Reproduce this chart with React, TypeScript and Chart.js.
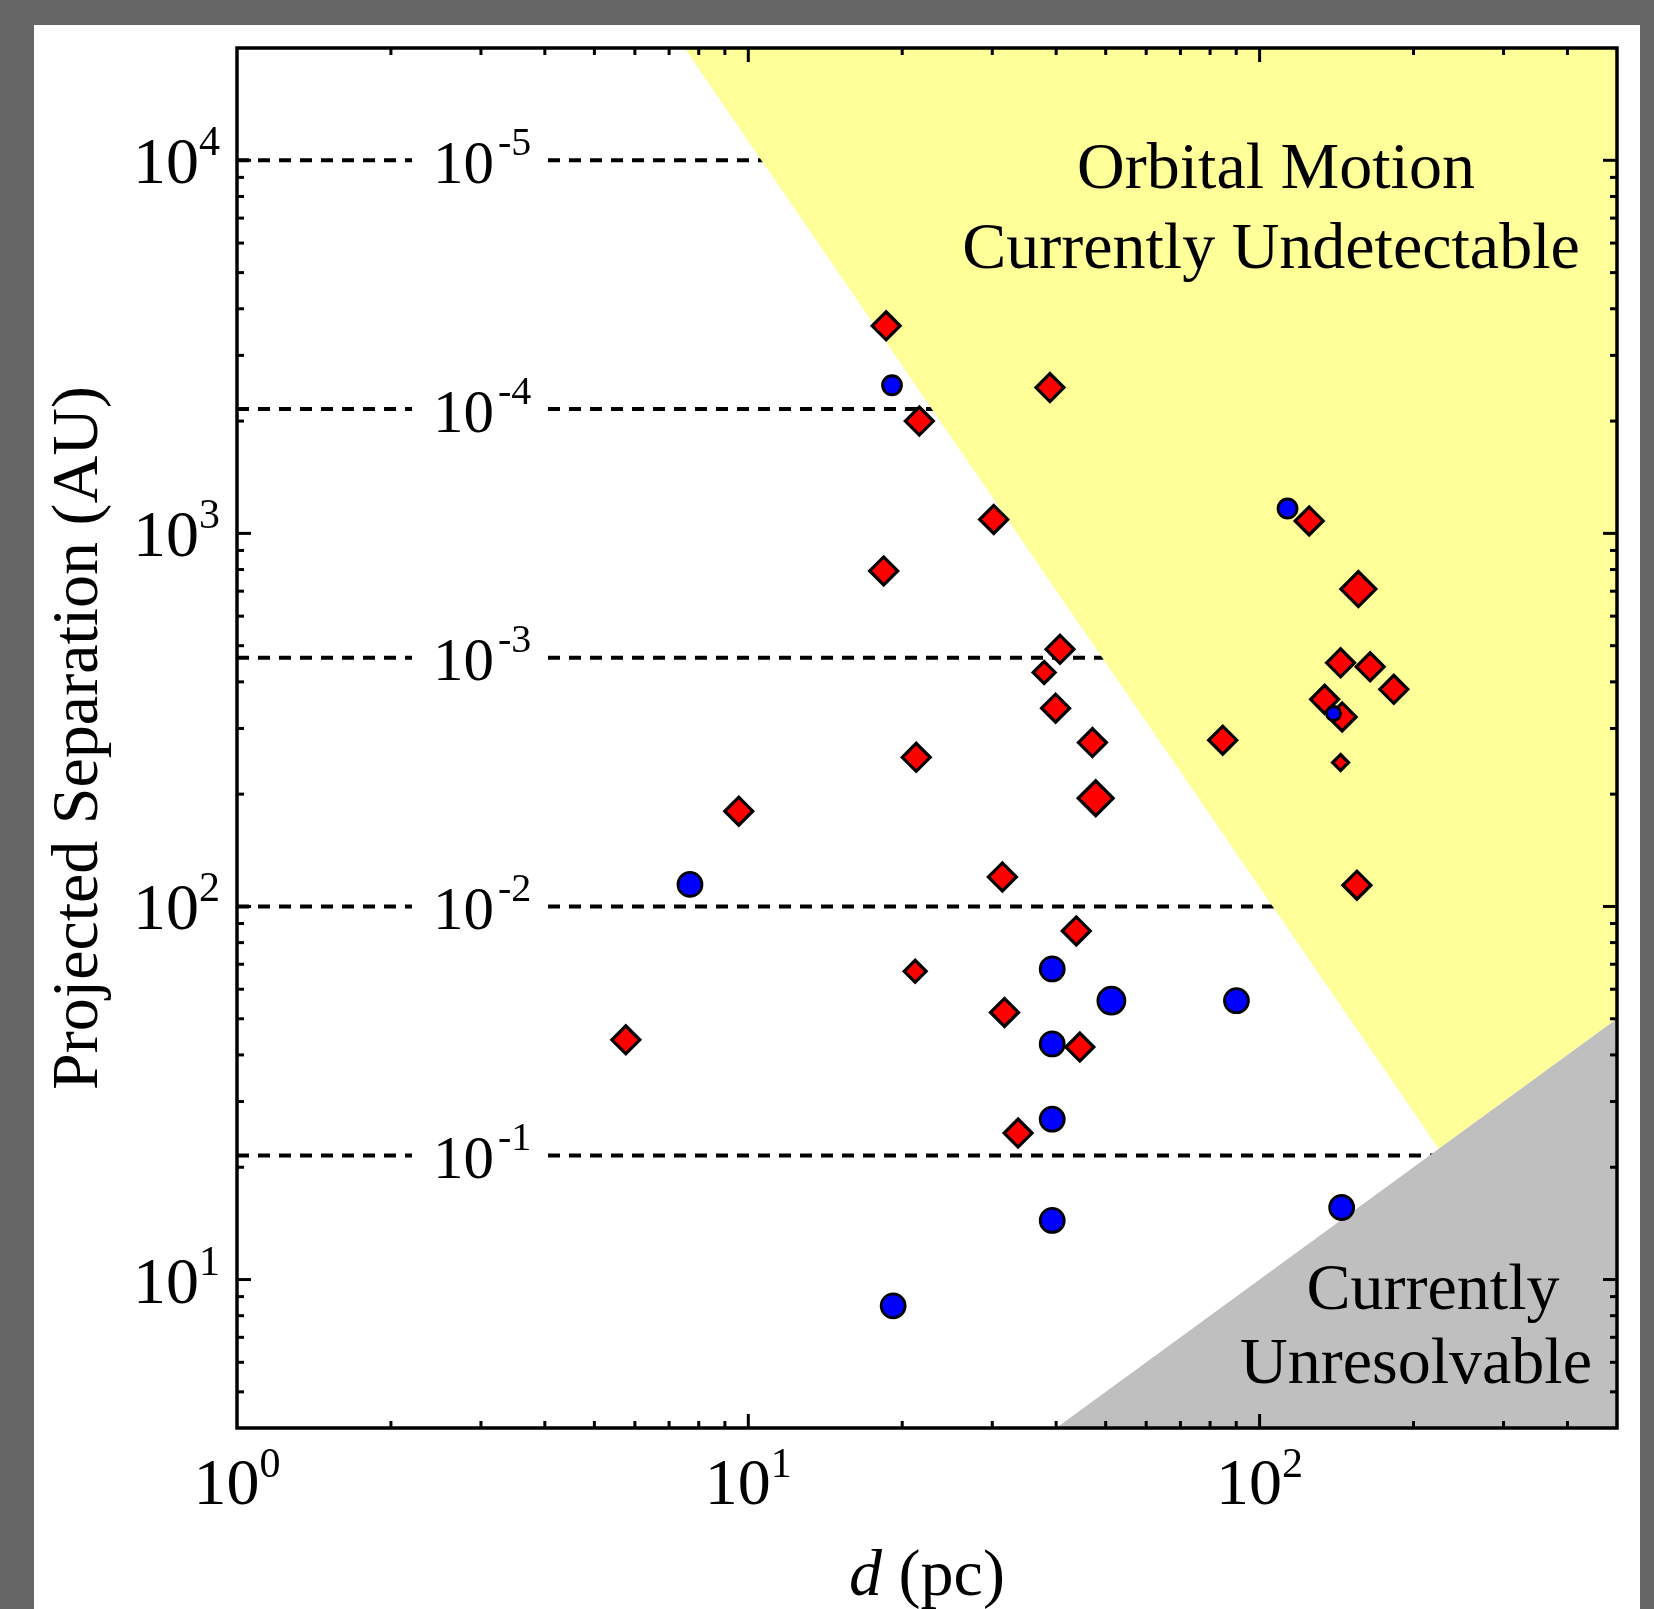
import React, { useEffect, useRef } from 'react';
import { Chart, registerables } from 'chart.js';

Chart.register(...registerables);

const W = 1654;
const H = 1609;
const SERIF = '"Liberation Serif", "Times New Roman", Times, serif';

// axis ranges (d in pc, projected separation in AU)
const xRange = [1, 500];
const yRange = [4, 20000];

// red diamonds
const redD = [18.6, 21.6, 38.9, 30.2, 18.4, 40.7, 37.9, 39.9, 47.1, 21.3, 47.8, 9.58, 31.4, 43.8, 21.2, 31.7, 44.5, 33.7, 5.76, 125, 156, 144, 164.5, 183, 134, 145, 84.7, 144, 155];
const redS = [3600, 2000, 2460, 1090, 793, 489, 424, 340, 275, 251, 195, 180, 120, 86, 67, 52, 42, 24.7, 43.9, 1080, 709, 450, 439, 382, 359, 322, 279, 243, 114];
const redSize = ['M', 'M', 'M', 'M', 'M', 'M', 'S', 'M', 'M', 'M', 'L', 'M', 'M', 'M', 'S', 'M', 'M', 'M', 'M', 'M', 'L', 'M', 'M', 'M', 'M', 'M', 'M', 'XS', 'M'];

// blue circles
const blueD = [19.1, 113.4, 139.5, 7.69, 39.3, 51.3, 90.1, 39.3, 39.3, 39.3, 19.2, 144.7];
const blueS = [2495, 1166, 329, 114.6, 68, 55.9, 55.9, 42.8, 26.9, 14.4, 8.5, 15.6];
const blueSize = ['S', 'S', 'XS', 'M', 'M', 'L', 'M', 'M', 'M', 'M', 'M', 'M'];

// shaded regions (vertices)
const yellowD = [7.5, 224, 500];
const yellowS = [20000, 22.4, 50];
const grayD = [40, 500];
const grayS = [4, 50];

// dashed guide lines
const guideS = [10000, 2154, 464, 100, 21.5];
const guideExp = ['-5', '-4', '-3', '-2', '-1'];

// tick labels
const xTickValues = [1, 10, 100];
const xTickExp = ['0', '1', '2'];
const yTickValues = [10, 100, 1000, 10000];
const yTickExp = ['1', '2', '3', '4'];

const regionTop = ['Orbital Motion', 'Currently Undetectable'];
const regionBottom = ['Currently', 'Unresolvable'];

const redRadius: Record<string, number> = { XS: 8, S: 11, M: 14, L: 17.5 };
const blueRadius: Record<string, number> = { XS: 7, S: 9.5, M: 12, L: 13.5 };

function logTicks(min: number, max: number) {
  const out: { v: number; major: boolean }[] = [];
  for (let e = Math.floor(Math.log10(min)); e <= Math.ceil(Math.log10(max)); e++) {
    for (let m = 1; m <= 9; m++) {
      const v = m * Math.pow(10, e);
      if (v > min * 1.0001 && v < max * 0.9999) out.push({ v, major: m === 1 });
    }
  }
  return out;
}

const overlay = {
  id: 'overlay',
  beforeDatasetsDraw(chart: any) {
    const { ctx, chartArea: a } = chart;
    const y = chart.scales.y;
    ctx.save();
    ctx.strokeStyle = '#000';
    ctx.lineWidth = 4;
    ctx.setLineDash([12, 9]);
    guideS.forEach((s) => {
      const py = y.getPixelForValue(s);
      ctx.beginPath();
      ctx.moveTo(a.left, py);
      ctx.lineTo(a.left + 175, py);
      ctx.stroke();
      ctx.beginPath();
      ctx.moveTo(a.left + 311, py);
      ctx.lineTo(a.right, py);
      ctx.stroke();
    });
    ctx.restore();
  },
  afterDatasetsDraw(chart: any) {
    const { ctx, chartArea: a } = chart;
    const x = chart.scales.x;
    const y = chart.scales.y;
    const mainFont = `66px ${SERIF}`;
    const supFont = `42px ${SERIF}`;
    const guideFont = `61px ${SERIF}`;
    const guideSupFont = `40px ${SERIF}`;
    ctx.save();
    ctx.fillStyle = '#000';
    ctx.strokeStyle = '#000';
    ctx.setLineDash([]);
    ctx.textBaseline = 'alphabetic';

    // guide labels
    guideS.forEach((s, i) => {
      const py = y.getPixelForValue(s);
      const x0 = a.left + 196;
      ctx.font = guideFont;
      ctx.textAlign = 'left';
      ctx.fillText('10', x0, py + 22.5);
      const w = ctx.measureText('10').width;
      ctx.font = guideSupFont;
      ctx.fillText(guideExp[i], x0 + w + 4, py - 5.5);
    });

    // ticks (inward, mirrored)
    ctx.lineWidth = 3;
    const seg = (x1: number, y1: number, x2: number, y2: number) => {
      ctx.beginPath();
      ctx.moveTo(x1, y1);
      ctx.lineTo(x2, y2);
      ctx.stroke();
    };
    logTicks(xRange[0], xRange[1]).forEach((t) => {
      const px = x.getPixelForValue(t.v);
      const len = t.major ? 14 : 7;
      seg(px, a.bottom, px, a.bottom - len);
      seg(px, a.top, px, a.top + len);
    });
    logTicks(yRange[0], yRange[1]).forEach((t) => {
      const py = y.getPixelForValue(t.v);
      const len = t.major ? 14 : 7;
      seg(a.left, py, a.left + len, py);
      seg(a.right, py, a.right - len, py);
    });

    // frame
    ctx.lineWidth = 3.5;
    ctx.strokeRect(a.left, a.top, a.right - a.left, a.bottom - a.top);

    // x tick labels
    xTickValues.forEach((v, i) => {
      const px = x.getPixelForValue(v);
      ctx.font = mainFont;
      const w1 = ctx.measureText('10').width;
      ctx.font = supFont;
      const w2 = ctx.measureText(xTickExp[i]).width;
      const start = px - (w1 + w2) / 2;
      ctx.textAlign = 'left';
      ctx.font = mainFont;
      ctx.fillText('10', start, a.bottom + 76);
      ctx.font = supFont;
      ctx.fillText(xTickExp[i], start + w1, a.bottom + 49);
    });

    // y tick labels
    yTickValues.forEach((v, i) => {
      const py = y.getPixelForValue(v);
      const right = a.left - 17;
      ctx.textAlign = 'right';
      ctx.font = supFont;
      const w2 = ctx.measureText(yTickExp[i]).width;
      ctx.fillText(yTickExp[i], right, py - 5);
      ctx.font = mainFont;
      ctx.fillText('10', right - w2, py + 23);
    });

    // x title: d (pc)
    ctx.textAlign = 'left';
    const italic = `italic 66px ${SERIF}`;
    ctx.font = italic;
    const wd = ctx.measureText('d').width;
    ctx.font = mainFont;
    const wr = ctx.measureText(' (pc)').width;
    const cx = (a.left + a.right) / 2;
    const sx = cx - (wd + wr) / 2;
    ctx.font = italic;
    ctx.fillText('d', sx, a.bottom + 167);
    ctx.font = mainFont;
    ctx.fillText(' (pc)', sx + wd, a.bottom + 167);

    // y title
    ctx.save();
    ctx.translate(97, (a.top + a.bottom) / 2);
    ctx.rotate(-Math.PI / 2);
    ctx.textAlign = 'center';
    ctx.font = mainFont;
    ctx.fillText('Projected Separation (AU)', 0, 0);
    ctx.restore();

    // region labels
    ctx.textAlign = 'center';
    ctx.font = mainFont;
    ctx.fillText(regionTop[0], a.left + 1039, a.top + 140);
    ctx.fillText(regionTop[1], a.left + 1034, a.top + 220);
    ctx.fillText(regionBottom[0], a.left + 1196, a.top + 1261);
    ctx.fillText(regionBottom[1], a.left + 1179, a.top + 1335);

    ctx.restore();
  },
};

export default function App() {
  const ref = useRef<HTMLCanvasElement | null>(null);

  useEffect(() => {
    if (!ref.current) return;
    const chart = new Chart(ref.current, {
      type: 'scatter',
      data: {
        datasets: [
          {
            type: 'line',
            label: 'Orbital motion currently undetectable',
            data: yellowD.map((d, i) => ({ x: d, y: yellowS[i] })),
            backgroundColor: '#ffff99',
            borderWidth: 0,
            pointRadius: 0,
            fill: 'end',
            tension: 0,
            order: 4,
          } as any,
          {
            type: 'line',
            label: 'Currently unresolvable',
            data: grayD.map((d, i) => ({ x: d, y: grayS[i] })),
            backgroundColor: '#bfbfbf',
            borderWidth: 0,
            pointRadius: 0,
            fill: 'start',
            tension: 0,
            order: 3,
          } as any,
          {
            label: 'Red',
            data: redD.map((d, i) => ({ x: d, y: redS[i] })),
            pointStyle: 'rectRot',
            pointRadius: redSize.map((s) => redRadius[s]),
            pointHoverRadius: redSize.map((s) => redRadius[s]),
            pointBackgroundColor: '#ff0000',
            pointBorderColor: '#000000',
            pointBorderWidth: 3.2,
            pointHoverBorderWidth: 3.2,
            showLine: false,
            order: 2,
          } as any,
          {
            label: 'Blue',
            data: blueD.map((d, i) => ({ x: d, y: blueS[i] })),
            pointStyle: 'circle',
            pointRadius: blueSize.map((s) => blueRadius[s]),
            pointHoverRadius: blueSize.map((s) => blueRadius[s]),
            pointBackgroundColor: '#0000ff',
            pointBorderColor: '#000000',
            pointBorderWidth: 2.8,
            pointHoverBorderWidth: 2.8,
            showLine: false,
            order: 1,
          } as any,
        ],
      },
      options: {
        animation: false,
        responsive: false,
        maintainAspectRatio: false,
        events: [],
        layout: { padding: { left: 237, top: 48, right: 37, bottom: 181 } },
        plugins: {
          legend: { display: false },
          tooltip: { enabled: false },
          title: { display: false },
        },
        scales: {
          x: { type: 'logarithmic', min: xRange[0], max: xRange[1], display: false },
          y: { type: 'logarithmic', min: yRange[0], max: yRange[1], display: false },
        },
      },
      plugins: [overlay],
    } as any);
    return () => chart.destroy();
  }, []);

  return (
    <div style={{ position: 'absolute', left: 0, top: 0, width: W, height: H, background: '#666666', overflow: 'hidden' }}>
      <div style={{ position: 'absolute', left: 34, top: 25, width: 1606, height: H - 25, background: '#ffffff' }} />
      <canvas ref={ref} width={W} height={H} style={{ position: 'absolute', left: 0, top: 0, width: W, height: H }} />
    </div>
  );
}
